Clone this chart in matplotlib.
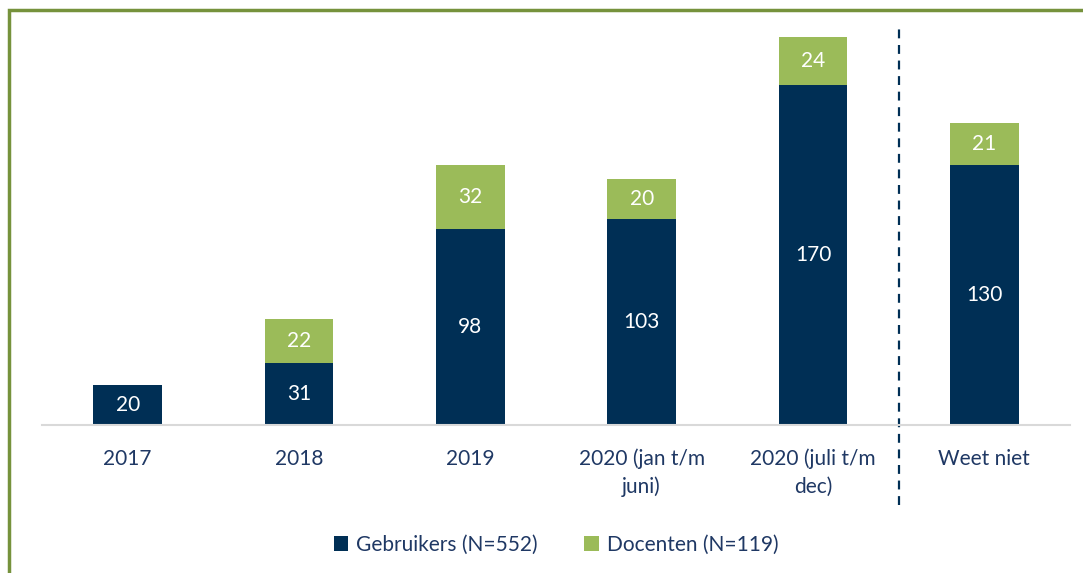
import matplotlib.pyplot as plt
from matplotlib.patches import Rectangle

# Data
categorieen = ['2017', '2018', '2019', '2020 (jan t/m\njuni)', '2020 (juli t/m\ndec)', 'Weet niet']
gebruikers = [20, 31, 98, 103, 170, 130]
docenten = [0, 22, 32, 20, 24, 21]
legenda = ['Gebruikers (N=552)', 'Docenten (N=119)']

navy = '#002F55'
groen = '#9BBB59'
tekst = '#1F3864'

plt.rcParams['font.family'] = ['Lato', 'DejaVu Sans']

fig = plt.figure(figsize=(10.83, 5.73), dpi=100)
ax = fig.add_axes([42 / 1083, 148 / 573, 1028 / 1083, 400 / 573])

x = range(len(categorieen))
b1 = ax.bar(x, gebruikers, width=0.4, color=navy, label=legenda[0])
b2 = ax.bar(x, docenten, width=0.4, bottom=gebruikers, color=groen, label=legenda[1])

# Waardelabels in de balken
for i in x:
    ax.text(i, gebruikers[i] / 2, str(gebruikers[i]), ha='center', va='center',
            color='white', fontsize=15)
    if docenten[i] > 0:
        ax.text(i, gebruikers[i] + docenten[i] / 2, str(docenten[i]), ha='center',
                va='center', color='white', fontsize=15)

ax.set_xlim(-0.5, len(categorieen) - 0.5)
ax.set_ylim(0, 200)
ax.set_xticks(list(x))
ax.set_xticklabels(categorieen, fontsize=15, color=tekst, linespacing=1.45)
ax.tick_params(axis='x', length=0, pad=17)
ax.set_yticks([])
for s in ['top', 'right', 'left']:
    ax.spines[s].set_visible(False)
ax.spines['bottom'].set_color('#D9D9D9')
ax.spines['bottom'].set_linewidth(1.5)

# Gestippelde scheidingslijn
ax.plot([4.5, 4.5], [-40, 200], linestyle=(0, (4, 3)), color=navy, linewidth=1.6,
        clip_on=False)

ax.legend(loc='center', bbox_to_anchor=(0.5, (573 - 545 - 148) / 400), ncol=2,
          frameon=False, fontsize=15, handlelength=0.7, handleheight=0.7,
          handletextpad=0.4, columnspacing=2.2, labelcolor=tekst)

# Rand om de figuur
fig.patches.append(Rectangle((9 / 1083, -0.1), 1.2, (573 - 10) / 573 + 0.1,
                             transform=fig.transFigure, fill=False,
                             edgecolor='#76923C', linewidth=2.5))

fig.savefig('out.png', dpi=100)
